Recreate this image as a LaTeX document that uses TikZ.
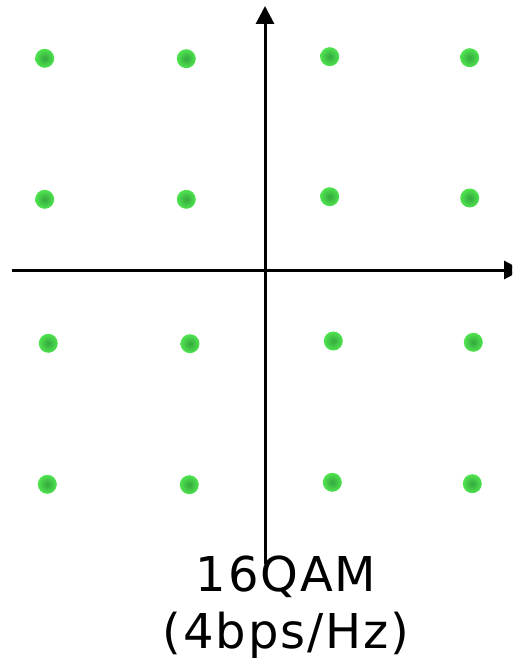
\documentclass[tikz,border=0pt]{standalone}
\usepackage{fontspec}
\newfontfamily\labelfont[LetterSpace=4]{DejaVu Sans}
\usetikzlibrary{arrows.meta}
\definecolor{dotout}{HTML}{50E450}
\definecolor{dotin}{HTML}{34A83E}
\tikzset{
  sym/.style={circle, inner sep=0pt, minimum size=19pt, shading=radial, inner color=dotin, outer color=dotout},
  axis/.style={line width=3pt, -{Triangle[length=18pt,width=18pt]}},
  captext/.style={font=\labelfont\fontsize{48}{56}\selectfont, inner sep=0pt, anchor=base}
}
\begin{document}
\begin{tikzpicture}[x=1pt,y=-1pt]
\useasboundingbox (0,0) rectangle (512,666);
\clip (0,0) rectangle (512,666);
% axes
\coordinate (vb) at (265,564);
\coordinate (vt) at (265,6);
\coordinate (hl) at (12,270);
\coordinate (hr) at (522,270);
\draw[axis] (vb) -- (vt);
\draw[axis] (hl) -- (hr);
% constellation
\node[sym] (p11) at (44.7,58.3) {};
\node[sym] (p12) at (186.3,58.7) {};
\node[sym] (p13) at (329.7,56.7) {};
\node[sym] (p14) at (469.7,57.7) {};
\node[sym] (p21) at (44.7,199.3) {};
\node[sym] (p22) at (186.3,199.3) {};
\node[sym] (p23) at (329.7,196.7) {};
\node[sym] (p24) at (469.7,198) {};
\node[sym] (p31) at (48.3,343.3) {};
\node[sym] (p32) at (190,343.7) {};
\node[sym] (p33) at (333.3,341) {};
\node[sym] (p34) at (473.3,342.3) {};
\node[sym] (p41) at (47.3,484.3) {};
\node[sym] (p42) at (189.3,484.7) {};
\node[sym] (p43) at (332.3,482.3) {};
\node[sym] (p44) at (472.3,483.7) {};
% caption
\node[captext] (t1) at (286,591) {16QAM};
\node[captext] (t2) at (286,648) {(4bps/Hz)};
\end{tikzpicture}
\end{document}
